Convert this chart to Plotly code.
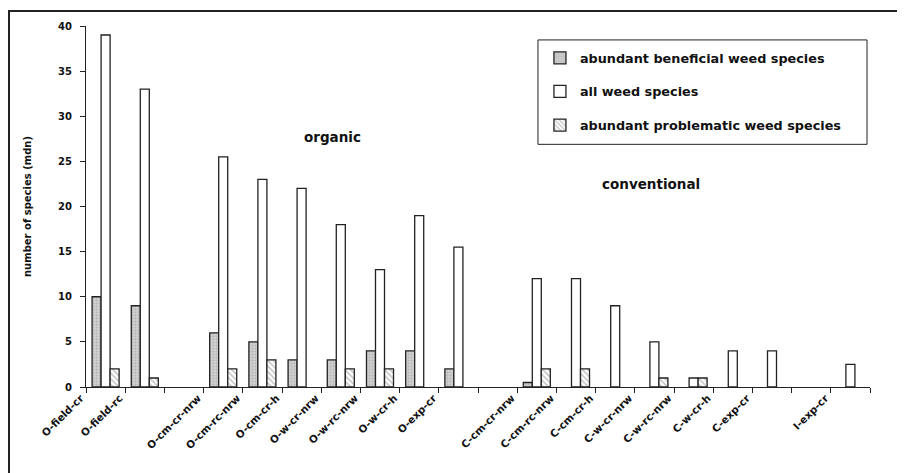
import plotly.graph_objects as go

categories = ["O-field-cr", "O-field-rc", " ", "O-cm-cr-nrw", "O-cm-rc-nrw", "O-cm-cr-h",
              "O-w-cr-nrw", "O-w-rc-nrw", "O-w-cr-h", "O-exp-cr", "  ",
              "C-cm-cr-nrw", "C-cm-rc-nrw", "C-cm-cr-h", "C-w-cr-nrw", "C-w-rc-nrw",
              "C-w-cr-h", "C-exp-cr", "   ", "I-exp-cr"]
# None = no bar visible
beneficial = [10, 9, None, 6, 5, 3, 3, 4, 4, 2, None, 0.5, None, None, None, None, None, None, None, None]
all_species = [39, 33, None, 25.5, 23, 22, 18, 13, 19, 15.5, None, 12, 12, 9, 5, 1, 4, 4, None, 2.5]
problematic = [2, 1, None, 2, 3, None, 2, 2, None, None, None, 2, 2, None, 1, 1, None, None, None, None]
series_names = ["abundant beneficial weed species", "all weed species",
                "abundant problematic weed species"]
y_ticks = [0, 5, 10, 15, 20, 25, 30, 35, 40]

FONT = "DejaVu Sans"
LINE = dict(color="#222222", width=1.3)

fig = go.Figure()
fig.add_trace(go.Bar(
    x=categories, y=beneficial, name=series_names[0], legendgroup="a",
    marker=dict(color="#c8c8c8", line=LINE,
                pattern=dict(shape=".", fgcolor="#9a9a9a", bgcolor="#cfcfcf", size=3, solidity=0.3)),
))
fig.add_trace(go.Bar(
    x=categories, y=all_species, name=series_names[1], legendgroup="b",
    marker=dict(color="white", line=LINE),
))
fig.add_trace(go.Bar(
    x=categories, y=problematic, name=series_names[2], legendgroup="c",
    marker=dict(color="white", line=LINE,
                pattern=dict(shape="\\", fgcolor="#8a8a8a", bgcolor="white", size=4, solidity=0.4)),
))

fig.add_annotation(text="organic", xref="paper", yref="y", x=0.315, y=27.66,
                   xanchor="center", yanchor="middle",
                   showarrow=False, font=dict(family=FONT, size=13.5, color="#111", weight="bold"))
fig.add_annotation(text="conventional", xref="paper", yref="y", x=0.7207, y=22.48,
                   xanchor="center", yanchor="middle",
                   showarrow=False, font=dict(family=FONT, size=13.5, color="#111", weight="bold"))

# outer frame
fig.add_shape(type="rect", xref="paper", yref="paper",
              x0=-0.0982, x1=1.12, y0=-0.35, y1=1.0413,
              line=dict(color="#222222", width=2), fillcolor="rgba(0,0,0,0)", layer="below")
# legend box
fig.add_shape(type="rect", xref="paper", yref="paper",
              x0=0.5765, x1=0.9962, y0=0.6722, y1=0.9614,
              line=dict(color="#222222", width=1), fillcolor="white", layer="below")

fig.update_layout(
    width=905, height=473,
    margin=dict(l=78, r=43, t=16, b=94),
    paper_bgcolor="white", plot_bgcolor="rgba(0,0,0,0)",
    barmode="group", bargap=0.31, bargroupgap=0,
    font=dict(family=FONT, color="#111", weight="bold"),
    showlegend=True,
    legend=dict(x=0.579, y=0.953, xanchor="left", yanchor="top",
                borderwidth=0, bgcolor="rgba(0,0,0,0)",
                font=dict(family=FONT, size=12.8, color="#111", weight="bold"),
                tracegroupgap=14, traceorder="grouped"),
    xaxis=dict(type="category", categoryorder="array", categoryarray=categories,
               showline=True, linecolor="#222222", linewidth=1.3,
               ticks="outside", ticklen=5, tickcolor="#222222", tickson="boundaries",
               tickangle=-45, ticklabelshift=-25,
               tickfont=dict(family=FONT, size=10.3, weight="bold"),
               showgrid=False, zeroline=False),
    yaxis=dict(range=[0, 40], tickvals=y_ticks, showline=True, linecolor="#222222", linewidth=1.3,
               ticks="outside", ticklen=5, tickcolor="#222222", ticklabelstandoff=6,
               tickfont=dict(family=FONT, size=10, weight="bold"),
               showgrid=False, zeroline=False,
               title=dict(text="number of species (mdn)", standoff=24,
                          font=dict(family=FONT, size=10, weight="bold"))),
)

fig.write_html("out.html")
